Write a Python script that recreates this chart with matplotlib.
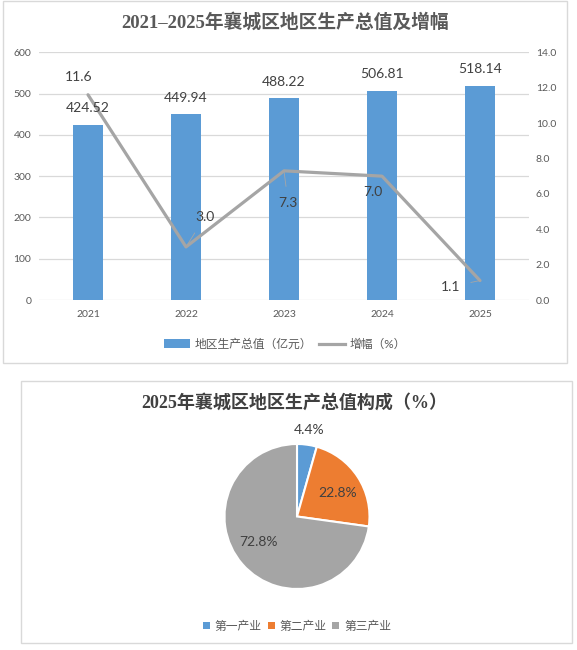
import matplotlib
matplotlib.use("Agg")
import matplotlib.pyplot as plt
import numpy as np
from matplotlib.patches import Patch, Rectangle
from matplotlib.lines import Line2D

plt.rcParams["font.family"] = ["Lato", "Noto Sans CJK SC", "DejaVu Sans"]

# data
years = ["2021", "2022", "2023", "2024", "2025"]
gdp = [424.52, 449.94, 488.22, 506.81, 518.14]
growth = [11.6, 3.0, 7.3, 7.0, 1.1]
sectors = ["第一产业", "第二产业", "第三产业"]
shares = [4.4, 22.8, 72.8]

BLUE = "#5B9BD5"
ORANGE = "#ED7D31"
GREY = "#A5A5A5"
TICK = "#595959"
LABEL = "#404040"
TITLE_FONT = ["Liberation Serif", "Noto Sans CJK SC"]

W, H = 577, 650
fig = plt.figure(figsize=(W / 100, H / 100), dpi=100)


def px_box(x0, y0, x1, y1):
    """Figure-fraction rect from pixel corners (y from top)."""
    return [x0 / W, 1 - y1 / H, (x1 - x0) / W, (y1 - y0) / H]


# panel frames
for x0, y0, x1, y1 in ((3, 1, 567, 363), (21, 381, 572, 643)):
    l, b, w, h = px_box(x0, y0, x1, y1)
    fig.patches.append(Rectangle((l, b), w, h, transform=fig.transFigure,
                                 fill=False, edgecolor="#D9D9D9", linewidth=1.0))

# ---- top: bars + growth line
ax = fig.add_axes(px_box(39, 52.3, 529, 300))
pos = range(len(years))
ax.bar(pos, gdp, width=0.31, color=BLUE, zorder=2)
ax.set_xlim(-0.5, len(years) - 0.5)
ax.set_ylim(0, 600)
ax.set_yticks(range(0, 601, 100))
ax.set_xticks(list(pos))
ax.set_xticklabels(years)
ax.grid(axis="y", color="#D9D9D9", linewidth=0.9, zorder=0)
ax.set_axisbelow(True)
for s in ax.spines.values():
    s.set_visible(False)
ax.tick_params(axis="both", length=0, labelsize=7.5, labelcolor=TICK)
ax.tick_params(axis="y", pad=5.5)
ax.tick_params(axis="x", pad=7)

ax2 = ax.twinx()
ax2.plot(list(pos), growth, color=GREY, linewidth=2.3, solid_capstyle="round", zorder=3)
ax2.set_ylim(0, 14)
ax2.set_yticks([i * 2 for i in range(8)])
ax2.set_yticklabels([f"{i * 2:.1f}" for i in range(8)])
for s in ax2.spines.values():
    s.set_visible(False)
ax2.tick_params(axis="y", length=0, labelsize=7.5, labelcolor=TICK, pad=5)

for i, v in enumerate(gdp):
    ax2.annotate(f"{v:.2f}", xy=(i, v), xycoords=ax.transData, xytext=(0, 12),
                 textcoords="offset points", ha="center", va="center",
                 fontsize=10, color=LABEL, zorder=5)

# label offsets (points) and whether a leader line is drawn
growth_offsets = [(-6.5, 12.5), (13.5, 21.5), (3, -23.5), (-6.5, -11.5), (-21.5, -4.5)]
growth_leader = [False, True, True, False, True]
for i, v in enumerate(growth):
    dx, dy = growth_offsets[i]
    arrow = dict(arrowstyle="-", color="#A6A6A6", lw=0.6, shrinkA=6, shrinkB=1) if growth_leader[i] else None
    ax2.annotate(f"{v:.1f}", xy=(i, v), xytext=(dx, dy), textcoords="offset points",
                 ha="center", va="center", fontsize=10, color=LABEL,
                 arrowprops=arrow, zorder=5)

fig.text(285 / W, 1 - 22 / H, "2021–2025年襄城区地区生产总值及增幅", ha="center", va="center",
         fontsize=13.5, fontweight="bold", color=TICK, family=TITLE_FONT)

handles = [Patch(facecolor=BLUE, edgecolor="none"),
           Line2D([0], [0], color=GREY, linewidth=2.3)]
fig.legend(handles, ["地区生产总值（亿元）", "增幅（%）"], loc="center",
           bbox_to_anchor=(285 / W, 1 - 344 / H), ncol=2, frameon=False,
           fontsize=8.5, labelcolor=TICK, handlelength=2.2, handletextpad=0.4,
           columnspacing=0.6)

# ---- bottom: pie
pax = fig.add_axes(px_box(224.5, 444, 369.5, 589))
pax.pie(shares, colors=[BLUE, ORANGE, GREY], startangle=90, counterclock=False,
        radius=1, wedgeprops=dict(edgecolor="white", linewidth=1.5))
pax.set_xlim(-1, 1)
pax.set_ylim(-1, 1)
pax.set_aspect("equal")
pax.axis("off")

# label radius (fraction of pie radius) and angle nudge (deg) for each slice
pie_label_r = [1.2, 0.64, 0.64]
pie_label_nudge = [0, -3, -8]
cum = 0.0
for i, v in enumerate(shares):
    mid = 90 - (cum + v / 2) * 3.6 + pie_label_nudge[i]
    cum += v
    r = pie_label_r[i]
    pax.text(r * np.cos(np.radians(mid)), r * np.sin(np.radians(mid)), f"{v:.1f}%",
             ha="center", va="center", fontsize=10, color=LABEL)

fig.text(294 / W, 1 - 403 / H, "2025年襄城区地区生产总值构成（%）", ha="center", va="center",
         fontsize=13, fontweight="bold", color=LABEL, family=TITLE_FONT)

fig.legend([Patch(facecolor=c, edgecolor="none") for c in (BLUE, ORANGE, GREY)], sectors,
           loc="center", bbox_to_anchor=(297 / W, 1 - 626 / H), ncol=3, frameon=False,
           fontsize=8.5, labelcolor=TICK, handlelength=0.6, handleheight=0.6,
           handletextpad=0.4, columnspacing=0.5)

fig.savefig("out.png", dpi=100, facecolor="white")
